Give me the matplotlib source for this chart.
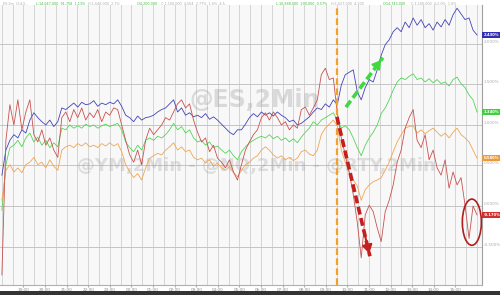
import numpy as np
import matplotlib
matplotlib.use("Agg")
import matplotlib.pyplot as plt
from matplotlib.patches import Ellipse, Rectangle
import matplotlib.transforms as mtransforms

# ---------------- data (percent change) ----------------
n_pts = 120
t = np.linspace(0, 22, n_pts)   # hours since 18:00

nasdaq = [0.38, 0.69, 0.81, 0.88, 0.84, 0.94, 0.90, 1.06, 1.15, 1.09,
          1.04, 1.00, 1.06, 0.98, 1.04, 1.21, 1.19, 1.23, 1.27, 1.22,
          1.28, 1.25, 1.26, 1.30, 1.23, 1.27, 1.25, 1.28, 1.26, 1.31,
          1.23, 1.12, 1.09, 1.04, 1.11, 1.06, 1.09, 1.10, 1.12, 1.16,
          1.19, 1.21, 1.26, 1.31, 1.16, 1.21, 1.12, 1.15, 1.10, 1.12,
          1.09, 1.14, 1.07, 1.10, 1.06, 1.01, 0.96, 0.91, 0.88, 0.94,
          0.94, 1.01, 1.09, 1.14, 1.10, 1.16, 1.12, 1.15, 1.11, 1.16,
          1.12, 1.09, 1.04, 1.06, 1.00, 1.02, 1.06, 1.10, 1.16, 1.21,
          1.19, 1.26, 1.22, 1.31, 1.25, 1.49, 1.62, 1.65, 1.68, 1.41,
          1.31, 1.46, 1.56, 1.53, 1.68, 1.86, 1.99, 2.05, 2.15, 2.20,
          2.15, 2.27, 2.20, 2.32, 2.23, 2.30, 2.20, 2.25, 2.17, 2.27,
          2.21, 2.30, 2.23, 2.36, 2.44, 2.37, 2.30, 2.32, 2.17, 2.11]

sp500 = [-0.05, 0.51, 0.72, 0.75, 0.81, 0.73, 0.84, 0.90, 0.79, 0.85,
         0.75, 0.81, 0.72, 0.78, 0.73, 0.96, 0.94, 1.00, 0.96, 0.99,
         0.96, 1.01, 0.98, 1.00, 0.96, 0.99, 1.01, 0.98, 1.00, 1.02,
         0.94, 0.79, 0.72, 0.67, 0.75, 0.69, 0.81, 0.84, 0.81, 0.86,
         0.84, 0.88, 0.94, 1.02, 0.94, 0.98, 0.90, 0.94, 0.84, 0.79,
         0.81, 0.75, 0.79, 0.72, 0.74, 0.69, 0.65, 0.69, 0.62, 0.57,
         0.67, 0.73, 0.78, 0.81, 0.84, 0.86, 0.84, 0.88, 0.83, 0.86,
         0.81, 0.84, 0.79, 0.83, 0.78, 0.85, 0.91, 0.96, 1.04, 1.00,
         1.06, 1.09, 1.12, 1.15, 1.06, 0.96, 0.99, 0.94, 0.84, 0.72,
         0.62, 0.75, 0.84, 0.91, 1.00, 1.14, 1.21, 1.31, 1.43, 1.53,
         1.58, 1.56, 1.60, 1.63, 1.56, 1.58, 1.53, 1.57, 1.52, 1.56,
         1.51, 1.53, 1.48, 1.56, 1.59, 1.51, 1.46, 1.37, 1.31, 1.16]

dow = [0.07, 0.44, 0.51, 0.42, 0.47, 0.41, 0.51, 0.54, 0.60, 0.51,
       0.54, 0.47, 0.57, 0.49, 0.44, 0.69, 0.73, 0.75, 0.72, 0.77,
       0.74, 0.78, 0.73, 0.75, 0.72, 0.77, 0.74, 0.78, 0.74, 0.77,
       0.67, 0.51, 0.42, 0.35, 0.40, 0.32, 0.47, 0.59, 0.62, 0.65,
       0.63, 0.69, 0.73, 0.78, 0.69, 0.73, 0.67, 0.69, 0.60, 0.57,
       0.59, 0.53, 0.57, 0.49, 0.53, 0.47, 0.44, 0.49, 0.41, 0.36,
       0.44, 0.51, 0.54, 0.59, 0.62, 0.69, 0.73, 0.69, 0.63, 0.59,
       0.62, 0.57, 0.60, 0.56, 0.59, 0.67, 0.69, 0.64, 0.62, 0.69,
       0.88, 0.96, 1.01, 1.06, 0.99, 0.69, 0.54, 0.42, 0.32, 0.25,
       0.07, 0.20, 0.26, 0.30, 0.32, 0.35, 0.44, 0.54, 0.67, 0.79,
       0.88, 0.96, 0.98, 0.99, 0.90, 0.94, 0.89, 0.93, 0.96, 0.91,
       0.86, 0.90, 0.84, 0.91, 0.96, 0.88, 0.84, 0.79, 0.69, 0.59]

russell = [-0.85, 0.81, 1.25, 1.00, 1.31, 0.94, 1.16, 1.31, 0.88, 0.79,
           0.94, 0.75, 0.84, 0.69, 0.60, 1.09, 1.16, 1.04, 1.19, 1.09,
           1.21, 1.06, 1.15, 1.09, 1.19, 1.04, 1.16, 1.12, 1.21, 1.19,
           1.00, 0.81, 0.63, 0.54, 0.69, 0.51, 0.81, 0.96, 0.88, 0.94,
           1.00, 1.09, 1.06, 1.16, 1.26, 1.31, 1.21, 1.26, 1.06, 0.91,
           0.79, 0.84, 0.67, 0.75, 0.59, 0.54, 0.47, 0.57, 0.42, 0.32,
           0.51, 0.69, 0.79, 0.88, 0.94, 1.09, 1.15, 1.06, 1.16, 1.09,
           1.00, 1.04, 0.94, 1.00, 0.96, 1.19, 1.22, 1.12, 1.21, 1.31,
           1.62, 1.70, 1.56, 1.58, 1.15, 0.84, 0.63, 0.41, 0.14, -0.20,
           -0.64, -0.11, 0.01, -0.07, -0.27, -0.44, -0.07, 0.07, 0.26, 0.54,
           0.69, 0.96, 1.09, 1.19, 0.81, 0.72, 0.88, 0.57, 0.69, 0.47,
           0.38, 0.57, 0.22, 0.42, 0.26, 0.35, 0.01, -0.40, 0.00, -0.11]

series_names = ["NQ", "ES", "YM", "RTY"]
series_colors = ["#4343b4", "#55d455", "#efa650", "#c85250"]
label_colors = ["#3030b0", "#3fcf3f", "#eb9b3c", "#d03030"]
end_labels = ["2.430%", "1.340%", "0.580%", "-0.170%"]

y_ticks = [-0.5, 0.0, 0.5, 1.0, 1.5, 2.0]
y_tick_labels = ["-0.500%", "0.000%", "0.500%", "1.000%", "1.500%", "2.000%"]
x_grid = np.arange(0, 22.5, 0.5)
x_ticks = list(range(1, 22))
x_tick_labels = ["19:00", "20:00", "21:00", "22:00", "23:00", "00:00", "01:00",
                 "02:00", "03:00", "04:00", "05:00", "06:00", "07:00", "08:00",
                 "09:00", "10:00", "11:00", "12:00", "13:00", "14:00", "15:00"]
cash_open = 15.5

green_arrow = ((15.93, 1.22), (17.64, 1.83))
red_arrow = ((15.51, 1.10), (17.04, -0.62))
circle_center = (21.76, -0.20)
circle_size = (0.88, 0.57)

header_texts = [
    (0.006, "ES 2m  O:4,5.. ", "#aaaaaa"),
    (0.072, "L:14,647,000  91,758  1.13%", "#44bb44"),
    (0.176, "H:1,648,000  2.7%", "#aaaaaa"),
    (0.274, "O:4,200,000", "#44bb44"),
    (0.322, "C:1,100,000  4,564  2.77%  1.6%  4,5..", "#aaaaaa"),
    (0.552, "L:10,888,000  290,000  0.57%", "#44bb44"),
    (0.662, "H:1,627,000  4,100", "#aaaaaa"),
    (0.766, "O:14,743,000", "#44bb44"),
    (0.822, "C:1,100,000  4,2.0%  1.6%", "#aaaaaa"),
]

# ---------------- figure ----------------
fig = plt.figure(figsize=(5.0, 2.95), dpi=100)
fig.patch.set_facecolor("white")
ax = fig.add_axes([0.0, 10 / 295, 482 / 500, 280 / 295])
ax.set_facecolor("#f8f8f8")
ax.set_xlim(-0.088, 22.23)
ax.set_ylim(-0.975, 2.48)

for xg in x_grid:
    ax.axvline(xg, color="#d4d4d4", lw=0.7, zorder=0)
for yt in y_ticks:
    ax.axhline(yt, color="#c4c4c4", lw=0.7, zorder=0)

# watermarks
ax.text(11.7, 1.31, "@ES,2Min", fontsize=17, fontweight="bold", color="#9a9a9a",
        alpha=0.33, ha="center", va="center", zorder=1)
ax.text(11.8, 0.49, "@YM,2Min - @NQ,2Min - @RTY,2Min", fontsize=13, fontweight="bold",
        color="#9a9a9a", alpha=0.28, ha="center", va="center", zorder=1)

data = [nasdaq, sp500, dow, russell]
for vals, col in zip(data, series_colors):
    ax.plot(t, vals, color=col, lw=0.6, zorder=3)

# cash-open line
ax.axvline(cash_open, color="#f0a030", lw=1.6, ls=(0, (3, 1.5)), zorder=4)

# arrows
for (p0, p1), col in [(green_arrow, "#3fd83f"), (red_arrow, "#c41e1e")]:
    ax.plot([p0[0], p1[0]], [p0[1], p1[1]], color=col, lw=2.6, ls=(0, (2.2, 1.0)),
            zorder=5, solid_capstyle="butt")
    ax.annotate("", xy=p1, xytext=(p0[0] + (p1[0] - p0[0]) * 0.8, p0[1] + (p1[1] - p0[1]) * 0.8),
                arrowprops=dict(arrowstyle="-|>,head_length=0.5,head_width=0.3",
                                color=col, lw=1.5), zorder=6)

ax.add_patch(Ellipse(circle_center, circle_size[0], circle_size[1], fill=False,
                     edgecolor="#b01e1e", lw=1.2, zorder=6))

# axes styling
for s in ["top", "left"]:
    ax.spines[s].set_visible(False)
ax.spines["right"].set_color("#a0a0a0")
ax.spines["bottom"].set_color("#b0b0b0")
ax.spines["right"].set_linewidth(0.8)
ax.spines["bottom"].set_linewidth(0.8)
ax.set_xticks(x_ticks)
ax.set_xticklabels(x_tick_labels, fontsize=3, color="#888888")
ax.tick_params(axis="x", length=1.5, pad=1, color="#aaaaaa")
ax.yaxis.tick_right()
ax.set_yticks(y_ticks)
ax.set_yticklabels(y_tick_labels, fontsize=3, color="#aaaaaa")
ax.tick_params(axis="y", length=0, pad=1.5)
for lab in ax.get_yticklabels():
    lab.set_va("bottom")

# end value labels
trans = mtransforms.blended_transform_factory(ax.transAxes, ax.transData)
for vals, col, lab in zip(data, label_colors, end_labels):
    ax.text(1.003, vals[-1], lab, transform=trans, fontsize=2.7, color="white",
            fontweight="bold", ha="left", va="center", clip_on=False, zorder=8,
            bbox=dict(boxstyle="square,pad=0.3", facecolor=col, edgecolor="none"))

# header
for xf, txt, col in header_texts:
    fig.text(xf, 0.993, txt, fontsize=2.4, color=col, va="top")

# bottom dark bar
fig.patches.append(Rectangle((0, 0), 1, 4 / 295, transform=fig.transFigure,
                             facecolor="#343434", edgecolor="none", zorder=10))

fig.savefig("out.png", dpi=100)
